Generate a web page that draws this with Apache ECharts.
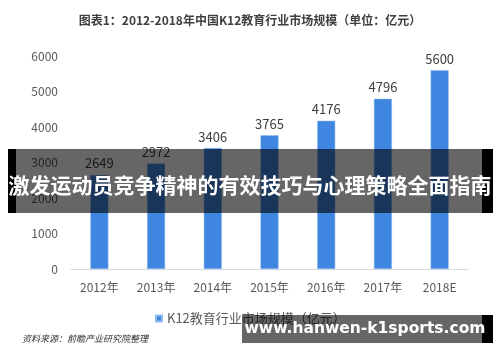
<!DOCTYPE html>
<html>
<head>
<meta charset="utf-8">
<style>
    html, body { margin: 0; padding: 0; background: #fff; }
    #container { width: 500px; height: 362px; }
</style>
</head>
<body>
<div id="container"></div>
<script src="https://cdn.jsdelivr.net/npm/echarts@6/dist/echarts.min.js"></script>
<script type="text/javascript">
    var years = ['2012年', '2013年', '2014年', '2015年', '2016年', '2017年', '2018E'];
    var scale = [2649, 2972, 3406, 3765, 4176, 4796, 5600];
    var seriesName = 'K12教育行业市场规模（亿元）';

    var dom = document.getElementById("container");
    var myChart = echarts.init(dom);
    var font = '"Noto Sans CJK SC", "Noto Sans", sans-serif';
    var shade = 'rgba(0,0,0,0.6)';

    var option = {
        animation: false,
        textStyle: { fontFamily: font },
        title: {
            text: '图表1：2012-2018年中国K12教育行业市场规模（单位：亿元）',
            left: 'center',
            top: 9,
            textStyle: { fontSize: 12, fontWeight: 'bold', color: '#404040', fontFamily: font }
        },
        legend: {
            data: [seriesName],
            left: 150,
            top: 307,
            itemWidth: 6,
            itemHeight: 6,
            itemGap: 5,
            icon: 'rect',
            textStyle: { fontSize: 13, color: '#595959', fontFamily: font }
        },
        grid: { left: 71, right: 32, top: 56, bottom: 93 },
        xAxis: {
            type: 'category',
            data: years,
            axisTick: { show: false },
            axisLine: { lineStyle: { color: '#d9d9d9' } },
            axisLabel: { color: '#595959', fontSize: 12, margin: 12, fontFamily: font }
        },
        yAxis: {
            type: 'value',
            min: 0,
            max: 6000,
            interval: 1000,
            splitLine: { show: false },
            axisLine: { show: false },
            axisTick: { show: false },
            axisLabel: {
                color: '#595959', fontSize: 12, margin: 13, fontFamily: font,
                formatter: function (v) { return String(v); }
            }
        },
        series: [{
            name: seriesName,
            type: 'bar',
            barWidth: 18,
            data: scale,
            itemStyle: { color: '#3f86e0', borderColor: '#8dbaf0', borderWidth: 0.5 },
            label: {
                show: true,
                position: 'top',
                distance: 5,
                fontSize: 13,
                color: '#404040',
                fontFamily: font
            }
        }],
        graphic: [
            {
                type: 'text', left: 22, top: 334, z: 10,
                style: { text: '资料来源：前瞻产业研究院整理', fontSize: 9, fontStyle: 'italic', fill: '#333', fontFamily: font }
            },
            // banner across the middle
            { type: 'rect', shape: { x: 8, y: 149, width: 8, height: 64 }, style: { fill: '#000' }, z: 100 },
            { type: 'rect', shape: { x: 16, y: 149, width: 466, height: 64 }, style: { fill: shade }, z: 100 },
            { type: 'rect', shape: { x: 482, y: 149, width: 11, height: 64 }, style: { fill: '#000' }, z: 100 },
            {
                type: 'text', x: 250, y: 185, z: 103,
                style: {
                    text: '激发运动员竞争精神的有效技巧与心理策略全面指南',
                    fontSize: 21, fontWeight: 'bold', fill: '#fff', fontFamily: font,
                    align: 'center', verticalAlign: 'middle'
                }
            },
            // site box bottom right
            { type: 'rect', shape: { x: 242, y: 315, width: 240, height: 28 }, style: { fill: shade }, z: 100 },
            { type: 'rect', shape: { x: 482, y: 315, width: 11, height: 28 }, style: { fill: '#000' }, z: 100 },
            {
                type: 'text', x: 365, y: 329, z: 103,
                style: {
                    text: 'www.hanwen-k1sports.com',
                    fontSize: 15.5, fontWeight: 'bold', fill: '#fff', fontFamily: '"DejaVu Sans", sans-serif',
                    align: 'center', verticalAlign: 'middle'
                }
            }
        ]
    };
    myChart.setOption(option);
</script>
</body>
</html>
